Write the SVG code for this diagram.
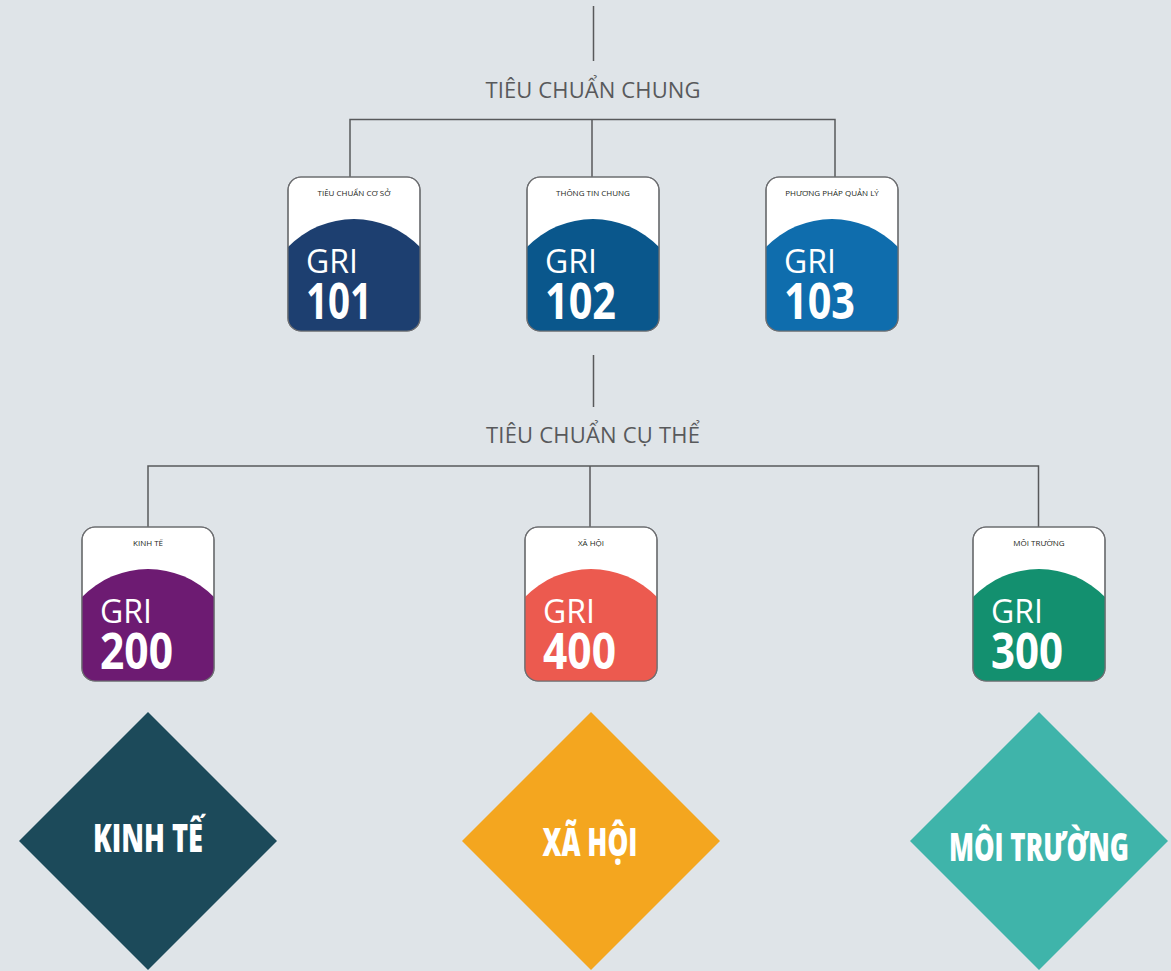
<svg xmlns="http://www.w3.org/2000/svg" width="1171" height="971" viewBox="0 0 1171 971">
  <defs>
    <style>
      .conn { stroke: #58595b; stroke-width: 1.5; fill: none; }
      .lbl { font-family: "Open Sans", "Liberation Sans", sans-serif; font-size: 22px; fill: #58595b; text-anchor: middle; }
      .frame { fill: #ffffff; stroke: #6d6e71; stroke-width: 1.2; }
      .edge { fill: none; stroke: #6d6e71; stroke-width: 1.2; }
      .ttl { font-family: "Open Sans", "Liberation Sans", sans-serif; font-size: 8px; fill: #231f20; text-anchor: middle; }
      .gri { font-family: "Open Sans", "Liberation Sans", sans-serif; font-size: 32px; fill: #ffffff; }
      .num { font-family: "Open Sans", "Liberation Sans", sans-serif; font-size: 51px; font-weight: 700; fill: #ffffff; }
      .dtx { font-family: "Open Sans", "Liberation Sans", sans-serif; font-size: 39px; font-weight: 800; fill: #ffffff; text-anchor: middle; }
    </style>
    <path id="cardBottom" d="M0,70 A92,92 0 0 1 132,70 V141 A13,13 0 0 1 119,154 H13 A13,13 0 0 1 0,141 Z"/>
  </defs>

  <rect x="0" y="0" width="1171" height="971" fill="#dfe4e8"/>

  <g id="connectors">
    <line class="conn" x1="593.5" y1="6" x2="593.5" y2="61"/>
    <polyline class="conn" points="350,177 350,119.5 835,119.5 835,177"/>
    <line class="conn" x1="592" y1="119.5" x2="592" y2="177"/>
    <line class="conn" x1="593.5" y1="355" x2="593.5" y2="407"/>
    <polyline class="conn" points="148,527 148,466 1038.5,466 1038.5,527"/>
    <line class="conn" x1="590" y1="466" x2="590" y2="527"/>
  </g>

  <g id="label-chung">
    <text class="lbl" x="593" y="98" textLength="215">TIÊU CHUẨN CHUNG</text>
  </g>
  <g id="label-cuthe">
    <text class="lbl" x="593" y="443" textLength="214">TIÊU CHUẨN CỤ THỂ</text>
  </g>

  <g id="gri101" transform="translate(288,177)">
    <rect class="frame" x="0" y="0" width="132" height="154" rx="13"/>
    <use href="#cardBottom" fill="#1d3f70"/>
    <rect class="edge" x="0" y="0" width="132" height="154" rx="13"/>
    <text class="ttl" x="66" y="19">TIÊU CHUẨN CƠ SỞ</text>
    <text class="gri" x="18" y="96">GRI</text>
    <text class="num" x="18" y="142" textLength="66" lengthAdjust="spacingAndGlyphs">101</text>
  </g>

  <g id="gri102" transform="translate(527,177)">
    <rect class="frame" x="0" y="0" width="132" height="154" rx="13"/>
    <use href="#cardBottom" fill="#0a578c"/>
    <rect class="edge" x="0" y="0" width="132" height="154" rx="13"/>
    <text class="ttl" x="66" y="19">THÔNG TIN CHUNG</text>
    <text class="gri" x="18" y="96">GRI</text>
    <text class="num" x="18" y="142" textLength="71" lengthAdjust="spacingAndGlyphs">102</text>
  </g>

  <g id="gri103" transform="translate(766,177)">
    <rect class="frame" x="0" y="0" width="132" height="154" rx="13"/>
    <use href="#cardBottom" fill="#0f6dad"/>
    <rect class="edge" x="0" y="0" width="132" height="154" rx="13"/>
    <text class="ttl" x="66" y="19">PHƯƠNG PHÁP QUẢN LÝ</text>
    <text class="gri" x="18" y="96">GRI</text>
    <text class="num" x="18" y="142" textLength="71" lengthAdjust="spacingAndGlyphs">103</text>
  </g>

  <g id="gri200" transform="translate(82,527)">
    <rect class="frame" x="0" y="0" width="132" height="154" rx="13"/>
    <use href="#cardBottom" fill="#6d1b72"/>
    <rect class="edge" x="0" y="0" width="132" height="154" rx="13"/>
    <text class="ttl" x="66" y="19">KINH TẾ</text>
    <text class="gri" x="18" y="96">GRI</text>
    <text class="num" x="18" y="142" textLength="73" lengthAdjust="spacingAndGlyphs">200</text>
  </g>

  <g id="gri400" transform="translate(525,527)">
    <rect class="frame" x="0" y="0" width="132" height="154" rx="13"/>
    <use href="#cardBottom" fill="#ec5a4f"/>
    <rect class="edge" x="0" y="0" width="132" height="154" rx="13"/>
    <text class="ttl" x="66" y="19">XÃ HỘI</text>
    <text class="gri" x="18" y="96">GRI</text>
    <text class="num" x="18" y="142" textLength="73" lengthAdjust="spacingAndGlyphs">400</text>
  </g>

  <g id="gri300" transform="translate(973,527)">
    <rect class="frame" x="0" y="0" width="132" height="154" rx="13"/>
    <use href="#cardBottom" fill="#13906f"/>
    <rect class="edge" x="0" y="0" width="132" height="154" rx="13"/>
    <text class="ttl" x="66" y="19">MÔI TRƯỜNG</text>
    <text class="gri" x="18" y="96">GRI</text>
    <text class="num" x="18" y="142" textLength="72" lengthAdjust="spacingAndGlyphs">300</text>
  </g>

  <g id="diamond-kinhte">
    <polygon points="148,712 277,841 148,970 19,841" fill="#1c4a5a"/>
    <text class="dtx" x="148" y="852" textLength="110" lengthAdjust="spacingAndGlyphs">KINH TẾ</text>
  </g>

  <g id="diamond-xahoi">
    <polygon points="591,712 720,841 591,970 462,841" fill="#f4a61f"/>
    <text class="dtx" x="590" y="856" textLength="95" lengthAdjust="spacingAndGlyphs">XÃ HỘI</text>
  </g>

  <g id="diamond-moitruong">
    <polygon points="1039,712 1168,841 1039,970 910,841" fill="#3fb4aa"/>
    <text class="dtx" x="1039" y="861" textLength="180" lengthAdjust="spacingAndGlyphs">MÔI TRƯỜNG</text>
  </g>
</svg>
